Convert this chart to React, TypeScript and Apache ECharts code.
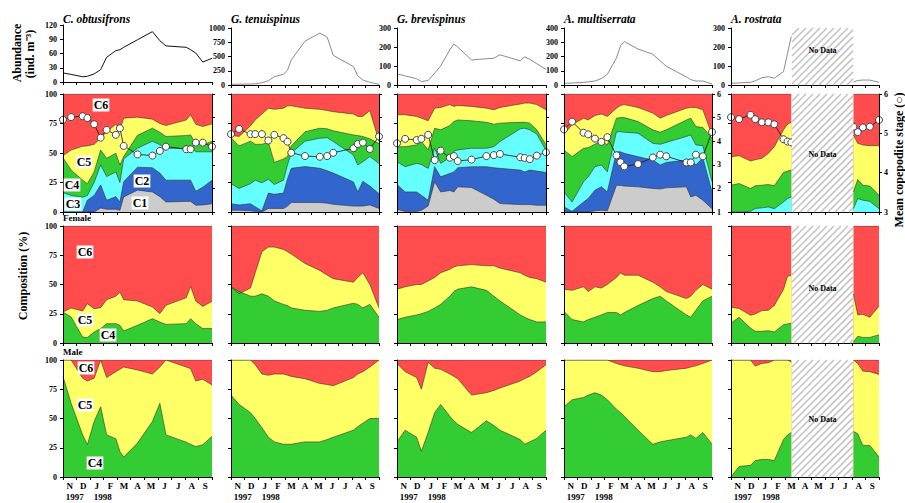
import React, { useEffect, useRef } from 'react';
import * as echarts from 'echarts';

const FONT = '"Liberation Serif", "Times New Roman", Times, serif';
const N = null;

// sampling dates, in months since 1 Nov 1997
const sampleMonth = [0, 0.6, 1.45, 1.8, 2.3, 2.78, 3.22, 3.9, 4.2, 4.48, 5.5, 6.6, 7.15, 7.6, 9.1, 9.42, 9.8, 10.32, 11];
const monthLabels = ['N', 'D', 'J', 'F', 'M', 'A', 'M', 'J', 'J', 'A', 'S'];
const speciesNames = ['C. obtusifrons', 'G. tenuispinus', 'G. brevispinus', 'A. multiserrata', 'A. rostrata'];
const abundanceMax = [120, 1000, 300, 400, 300];
const abundanceStep = [30, 250, 100, 100, 100];
const stageAxisMin = [1, 1, 1, 1, 3];
const noDataFrom = 4.53;
const noDataTo = 9.07;

// ---- C. obtusifrons ----
const cobAbundance = [19, 16, 11, 12, 17, 26, 52, 66, 68, 73, 89, 106, 87, 76, 73, 68, 61, 42, 50];
const cobC1 = [0, 0, 0, 0, 0, 3.4, 2.3, 2.3, 1.4, 12.8, 18.5, 17, 13, 8.5, 9, 9, 5.7, 6, 7];
const cobC2 = [0, 0, 0, 10, 14, 23, 10, 13, 8.5, 25.6, 38, 37.5, 33, 27, 27, 27, 17.6, 21, 27];
const cobC3 = [16.5, 14, 12.5, 14, 25, 40, 30, 34, 25, 45, 54, 60, 57, 54, 54, 55, 51, 51, 51];
const cobC4 = [46, 35.5, 27, 24, 34, 52.5, 45.5, 49.7, 39.8, 47, 65, 71, 67.6, 64, 64.8, 65.3, 58, 56.8, 60];
const cobC5 = [47.7, 52.5, 55.7, 56, 57.4, 62.5, 68, 74.4, 69.6, 79.5, 80.4, 78.7, 75, 73.3, 78, 82.4, 74.4, 72.4, 74.7];
const cobStage = [4.91, 5.02, 5.06, 4.98, 4.72, 4.15, 4.48, 4.27, 4.55, 3.8, 3.44, 3.39, 3.59, 3.77, 3.66, 3.66, 3.94, 3.94, 3.77];
const cobFemaleC4 = [26.5, 22.2, 5.1, 4.6, 9.4, 12.3, 16.5, 16.5, 15.1, 10.3, 15.1, 20.8, 17.9, 15.9, 16.5, 20.8, 16.5, 12.3, 12.3];
const cobFemaleC5 = [26.5, 29.9, 27.4, 33.6, 29.3, 30.2, 37, 39.9, 43.6, 37, 35.9, 30.8, 25.1, 32.2, 38.7, 48.4, 35.9, 31.3, 35.6];
const cobMaleC4 = [85.8, 63, 36, 27.6, 47.4, 60, 36, 32.7, 21.9, 17, 29, 47.4, 63, 36, 29.8, 28, 26, 27.6, 34.7];
const cobMaleC5 = [100, 100, 84.4, 82, 84.4, 100, 85, 90, 92, 94, 91.5, 88, 94, 100, 94, 92.6, 82, 83.5, 78.7];

// ---- G. tenuispinus ----
const gteAbundance = [12, 14, 18, 20, 40, 75, 145, 190, 260, 440, 770, 910, 840, 520, 324, 159, 88, 47, 12];
const gteC1 = [1.5, 1.5, 1, 0.5, 0, 3, 3, 3, 5, 8, 8, 8, 7.5, 6.5, 5, 5, 5, 6, 3];
const gteC2 = [7, 6, 7, 4.5, 1, 16, 15, 16, 28, 37, 38.5, 37, 35, 33, 25.5, 17, 26, 22, 15.5];
const gteC3 = [24, 20, 24, 27, 24.7, 27.8, 23.3, 27, 40, 50, 60, 62.5, 63, 59.7, 48.3, 39.8, 42.6, 47, 41];
const gteC4 = [63, 56, 60, 57.4, 57.4, 59, 42, 45, 47, 56, 68, 71, 70.5, 68.8, 65.3, 64.8, 64, 62, 58];
const gteC5 = [65, 64, 73, 78, 83, 88, 87, 88, 90, 90, 88, 87, 86, 85, 83, 81, 81, 86, 60];
const gteStage = [4.3, 4.52, 4.3, 4.3, 4.3, 4.03, 4.27, 4.13, 3.98, 3.51, 3.37, 3.34, 3.37, 3.51, 3.7, 3.88, 3.94, 3.67, 4.2];
const gteFemaleC4 = [48, 44, 40, 40, 42, 40, 36, 33, 32, 30, 28, 27, 28, 30, 34, 33, 30, 33, 22];
const gteFemaleC5 = [48, 42, 47, 60, 78, 82, 82, 80, 78, 76, 68, 62, 58, 55, 52, 56, 60, 50, 30];
const gteMaleC4 = [70, 62, 55, 50, 42, 34, 30, 28, 28, 28, 30, 30, 32, 34, 40, 43, 46, 50, 50];
const gteMaleC5 = [100, 100, 100, 96, 88, 87, 88, 88, 87, 86, 84, 80, 79, 78, 85, 88, 90, 94, 100];

// ---- G. brevispinus ----
const gbrAbundance = [58, 48, 33, 18, 24, 62, 100, 185, 215, 200, 132, 138, 141, 159, 127, 148, 135, 112, 82];
const gbrC1 = [2.3, 0.5, 0.5, 1.4, 5.1, 25.6, 17, 18.2, 17, 21.3, 20.7, 14.2, 10.8, 7.1, 6.3, 6.3, 6.3, 5.7, 5.7];
const gbrC2 = [23.3, 17, 17, 14.2, 10, 38.4, 29.8, 32.7, 34, 37.5, 38.4, 38.4, 37.5, 37, 35.5, 34, 35.5, 34.7, 33.5];
const gbrC3 = [42.6, 38.4, 41.2, 40.3, 36.9, 54, 41.2, 46, 51.7, 52.6, 54, 54, 55.4, 59.7, 70.5, 71, 69.6, 66, 52];
const gbrC4 = [55.4, 55.4, 56.8, 59.7, 52.6, 71, 69.6, 73.3, 76.7, 78, 77.3, 76, 74.4, 75.3, 76, 76, 75.3, 69.6, 57];
const gbrC5 = [82.4, 82.4, 81, 79.5, 77.3, 88, 88.6, 91, 89.5, 90.3, 89.5, 88, 86.6, 88.6, 91.5, 92.3, 92.3, 91, 86.6];
const gbrStage = [3.91, 4.1, 4.05, 4.1, 4.27, 3.2, 3.6, 3.3, 3.37, 3.16, 3.22, 3.37, 3.41, 3.46, 3.32, 3.29, 3.24, 3.39, 3.53];
const gbrFemaleC4 = [20, 22, 24, 25, 27, 30, 33, 40, 44, 46, 48, 45, 40, 36, 24, 22, 20, 18, 18];
const gbrFemaleC5 = [46, 48, 50, 50, 53, 56, 60, 63, 65, 66, 67, 66, 66, 64, 60, 58, 56, 55, 52];
const gbrMaleC4 = [30, 40, 34, 22, 38, 55, 62, 52, 48, 45, 38, 48, 44, 40, 32, 28, 30, 33, 40];
const gbrMaleC5 = [97, 90, 85, 75, 98, 93, 92, 88, 86, 84, 70, 72, 74, 76, 82, 84, 86, 90, 96];

// ---- A. multiserrata ----
const amuAbundance = [12, 14, 18, 22, 28, 45, 75, 190, 275, 305, 252, 216, 169, 132, 56, 38, 28, 28, 7];
const amuC1 = [0.5, 0, 0, 0, 1, 1.5, 1, 22.7, 22.5, 22, 21.3, 20, 19.5, 20.5, 21.3, 12.8, 14.2, 10, 2.8];
const amuC2 = [4.3, 0.6, 8.5, 11.4, 18.5, 21.3, 17, 51, 51, 49.7, 46.9, 44, 39.8, 42, 44, 44.9, 39.8, 46, 17];
const amuC3 = [17, 8.5, 25.6, 29.8, 38.4, 39.8, 34, 68, 68, 67.6, 66.8, 58.2, 57.4, 59, 64, 65.3, 56.8, 56.2, 25.6];
const amuC4 = [52.6, 46.9, 54, 54.5, 57.4, 60.2, 56.8, 79.5, 80, 80, 76.7, 69.6, 67.6, 69.6, 78, 79.5, 72.4, 71.6, 62.5];
const amuC5 = [65.9, 73.9, 79.5, 78, 81.8, 83, 81, 88, 90.3, 91, 88.6, 83.8, 79.5, 81.8, 88, 88.6, 88.6, 86.6, 65.3];
const amuStage = [4.5, 4.83, 4.36, 4.29, 4.11, 3.97, 4.17, 3.4, 3.11, 2.93, 3.03, 3.31, 3.43, 3.36, 3.1, 3.1, 3.43, 3.36, 4.39];
const amuFemaleC4 = [27, 20, 18, 20, 22, 24, 26, 26, 24, 26, 32, 38, 40, 36, 24, 22, 28, 36, 40];
const amuFemaleC5 = [46, 45, 48, 44, 48, 47, 50, 56, 60, 58, 58, 52, 48, 44, 38, 40, 45, 50, 46];
const amuMaleC4 = [60, 66, 68, 70, 72, 70, 66, 58, 55, 52, 40, 28, 30, 31, 34, 36, 33, 38, 28];
const amuMaleC5 = [100, 100, 100, 100, 100, 100, 100, 97, 96, 95, 93, 90, 90, 91, 93, 94, 95, 97, 100];

// ---- A. rostrata (no data Mar–Jul) ----
const aroAbundance = [9, 11, 14, 22, 38, 44, 36, 70, 165, 255, N, N, N, N, 15, 24, 26, 26, 14];
const aroC3 = [0, 0, 0.5, 3, 3.5, 4.3, 2.8, 8.5, 11.4, 12.8, N, N, N, N, 2.8, 11.4, 10, 9, 2.8];
const aroC4 = [22.7, 24.1, 19.9, 22.2, 22.7, 23.3, 22.2, 33.5, 34.7, 35.5, N, N, N, N, 17, 27.6, 22.7, 22, 14.2];
const aroC5 = [46.9, 47.7, 43.2, 44.3, 45.5, 49.7, 55.4, 69.6, 74.4, 76.1, N, N, N, N, 65.3, 58.2, 56.8, 56.2, 56.2];
const aroStage = [5.41, 5.36, 5.47, 5.36, 5.28, 5.28, 5.23, 4.85, 4.79, 4.77, N, N, N, N, 5.17, 5.03, 5.15, 5.17, 5.34];
const aroFemaleC4 = [17, 22, 12.8, 10, 10, 10.5, 9.4, 15.7, 16.3, 17, N, N, N, N, 1, 5.7, 4.8, 4.8, 7];
const aroFemaleC5 = [30.6, 29.5, 23.7, 24.8, 27.7, 28, 32, 45.7, 57, 58, N, N, N, N, 42, 24, 24.5, 22, 31.4];
const aroMaleC4 = [0, 9, 10, 14, 15, 15, 14, 32, 36, 38, N, N, N, N, 39, 37, 27, 27, 17];
const aroMaleC5 = [100, 100, 100, 94.8, 97.1, 97.7, 100, 100, 100, 98.3, N, N, N, N, 100, 97, 90.5, 90, 87.7];

const STAGE_COLORS = ['#cccccc', '#3366cc', '#66ffff', '#33cc33', '#ffff66', '#ff4d4d'];

type Sp = {
  abundance: (number | null)[];
  cum: ((number | null)[] | null)[];
  stage: (number | null)[];
  female: (number | null)[][];
  male: (number | null)[][];
};

const species: Sp[] = [
  { abundance: cobAbundance, cum: [cobC1, cobC2, cobC3, cobC4, cobC5], stage: cobStage, female: [cobFemaleC4, cobFemaleC5], male: [cobMaleC4, cobMaleC5] },
  { abundance: gteAbundance, cum: [gteC1, gteC2, gteC3, gteC4, gteC5], stage: gteStage, female: [gteFemaleC4, gteFemaleC5], male: [gteMaleC4, gteMaleC5] },
  { abundance: gbrAbundance, cum: [gbrC1, gbrC2, gbrC3, gbrC4, gbrC5], stage: gbrStage, female: [gbrFemaleC4, gbrFemaleC5], male: [gbrMaleC4, gbrMaleC5] },
  { abundance: amuAbundance, cum: [amuC1, amuC2, amuC3, amuC4, amuC5], stage: amuStage, female: [amuFemaleC4, amuFemaleC5], male: [amuMaleC4, amuMaleC5] },
  { abundance: aroAbundance, cum: [null, null, aroC3, aroC4, aroC5], stage: aroStage, female: [aroFemaleC4, aroFemaleC5], male: [aroMaleC4, aroMaleC5] },
];

// layout
const colLeft = [63, 231, 397, 564, 731];
const colWidth = [149, 148, 149, 148, 148];
const rowTop = [28, 94, 226, 360];
const rowHeight = [57, 118, 117, 117];
const gridTop = (r: number, c: number) => (r === 0 && c === 0 ? 25 : rowTop[r]);

const pts = (arr: (number | null)[]) => sampleMonth.map((m, i) => [m, arr[i] == null ? '-' : arr[i]]);
const topPts = (ref: (number | null)[]) => sampleMonth.map((m, i) => [m, ref[i] == null ? '-' : 100]);

function buildOption() {
  const grid: any[] = [];
  const xAxis: any[] = [];
  const yAxis: any[] = [];
  const series: any[] = [];
  const graphic: any[] = [];

  const axisLabelBase = { fontFamily: FONT, fontWeight: 'bold', fontSize: 8, color: '#000', formatter: (v: number) => String(v) };

  for (let r = 0; r < 4; r++) {
    for (let c = 0; c < 5; c++) {
      const g = r * 5 + c;
      grid.push({ left: colLeft[c], top: gridTop(r, c), width: colWidth[c], height: rowHeight[r] });
      xAxis.push({
        type: 'value', gridIndex: g, min: 0, max: 11, interval: 1, z: 10,
        axisLine: { show: true, onZero: false, lineStyle: { color: '#000', width: 1 } },
        axisTick: { show: true, length: 3, lineStyle: { color: '#000' } },
        axisLabel: { show: false }, splitLine: { show: false },
      });
      yAxis.push({
        type: 'value', gridIndex: g, position: 'left', z: 10,
        min: 0, max: r === 0 ? abundanceMax[c] : 100, interval: r === 0 ? abundanceStep[c] : 25,
        axisLine: { show: true, lineStyle: { color: '#000', width: 1 } },
        axisTick: { show: true, length: 3, lineStyle: { color: '#000' } },
        axisLabel: { ...axisLabelBase, show: r === 0 || c === 0, margin: 6 },
        splitLine: { show: false },
      });
    }
  }
  // right axes: mean copepodite stage (row 2)
  for (let c = 0; c < 5; c++) {
    yAxis.push({
      type: 'value', gridIndex: 5 + c, position: 'right', z: 10,
      min: stageAxisMin[c], max: 6, interval: 1,
      axisLine: { show: true, lineStyle: { color: '#000', width: 1 } },
      axisTick: { show: true, length: 3, lineStyle: { color: '#000' } },
      axisLabel: { ...axisLabelBase, show: c >= 3, margin: 5 },
      splitLine: { show: false },
    });
  }
  // month labels (row 4)
  for (let c = 0; c < 5; c++) {
    xAxis.push({
      type: 'category', gridIndex: 15 + c, position: 'bottom', data: monthLabels, boundaryGap: true,
      axisLine: { show: false }, axisTick: { show: false },
      axisLabel: { fontFamily: FONT, fontWeight: 'bold', fontSize: 9, color: '#000', margin: 4, interval: 0 },
      splitLine: { show: false },
    });
  }

  const areaSeries = (g: number, yIdx: number, data: any[], color: string) => ({
    type: 'line', xAxisIndex: g, yAxisIndex: yIdx, data, symbol: 'none', showSymbol: false,
    silent: true, animation: false, z: 2,
    lineStyle: { color: '#333', width: 0.6 },
    areaStyle: { color, opacity: 1 },
  });

  species.forEach((sp, c) => {
    // row 1: abundance
    series.push({
      type: 'line', xAxisIndex: c, yAxisIndex: c, data: pts(sp.abundance), symbol: 'none', showSymbol: false,
      silent: true, z: 3,
      lineStyle: { color: c === 0 ? '#111' : '#8a8a8a', width: 1 },
    });
    // row 2: C1..C6 composition
    const g2 = 5 + c;
    series.push(areaSeries(g2, g2, topPts(sp.cum[4] as any), STAGE_COLORS[5]));
    for (let k = 4; k >= 0; k--) {
      const arr = sp.cum[k];
      if (!arr) continue;
      series.push(areaSeries(g2, g2, pts(arr), STAGE_COLORS[k]));
    }
    series.push({
      type: 'line', xAxisIndex: g2, yAxisIndex: 20 + c, data: pts(sp.stage),
      symbol: 'circle', symbolSize: 7, showSymbol: true, silent: true, z: 5,
      lineStyle: { color: '#111', width: 0.8 },
      itemStyle: { color: '#ffffff', borderColor: '#444', borderWidth: 1 },
    });
    // row 3: female, row 4: male
    [sp.female, sp.male].forEach((sex, si) => {
      const g = (2 + si) * 5 + c;
      series.push(areaSeries(g, g, topPts(sex[1]), STAGE_COLORS[5]));
      series.push(areaSeries(g, g, pts(sex[1]), STAGE_COLORS[4]));
      series.push(areaSeries(g, g, pts(sex[0]), STAGE_COLORS[3]));
    });
  });

  // titles
  speciesNames.forEach((name, c) => {
    graphic.push({
      type: 'text', x: colLeft[c], y: 19, z: 50,
      style: { text: name, fill: '#000', font: `italic bold 11.5px ${FONT}`, align: 'left', verticalAlign: 'middle' },
    });
  });

  const txt = (text: string, x: number, y: number, size: number, extra: any = {}) => ({
    type: 'text', x, y, z: 60, ...extra,
    style: { text, fill: '#000', font: `bold ${size}px ${FONT}`, align: 'center', verticalAlign: 'middle', ...(extra.style || {}) },
  });

  graphic.push({ ...txt('Abundance', 17, 53, 12), rotation: Math.PI / 2 });
  graphic.push({ ...txt('(ind. m\u207B\u00B3)', 30, 54, 12), rotation: Math.PI / 2 });
  graphic.push({ ...txt('Composition (%)', 23, 276, 12), rotation: Math.PI / 2 });
  graphic.push({ ...txt('Mean copepodite stage (\u25CB)', 899, 160, 12), rotation: Math.PI / 2 });
  graphic.push({ type: 'text', x: 63, y: 218, z: 60, style: { text: 'Female', fill: '#000', font: `bold 9px ${FONT}`, align: 'left', verticalAlign: 'middle' } });
  graphic.push({ type: 'text', x: 63, y: 352, z: 60, style: { text: 'Male', fill: '#000', font: `bold 9px ${FONT}`, align: 'left', verticalAlign: 'middle' } });

  // stage labels in first column
  const stageLabels: [string, number, number][] = [
    ['C6', 101, 105], ['C5', 84, 162], ['C4', 72, 185], ['C3', 73, 204], ['C2', 142, 181], ['C1', 140, 203],
    ['C6', 85, 252], ['C5', 85, 320], ['C4', 108, 335],
    ['C6', 86, 368], ['C5', 85, 405], ['C4', 95, 463],
  ];
  stageLabels.forEach(([t, x, y]) => {
    graphic.push({
      type: 'text', x, y, z: 80,
      style: { text: t, fill: '#000', font: `bold 12px ${FONT}`, align: 'center', verticalAlign: 'middle', backgroundColor: '#ffffff', padding: [1, 1, 0, 1] },
    });
  });

  // year labels
  for (let c = 0; c < 5; c++) {
    const w = colWidth[c] / 11;
    graphic.push({ type: 'text', x: colLeft[c] + 0.5 * w - 4, y: 497, z: 60, style: { text: '1997', fill: '#000', font: `bold 9px ${FONT}`, align: 'left', verticalAlign: 'middle' } });
    graphic.push({ type: 'text', x: colLeft[c] + 2.5 * w - 3, y: 497, z: 60, style: { text: '1998', fill: '#000', font: `bold 9px ${FONT}`, align: 'left', verticalAlign: 'middle' } });
  }

  // No Data hatches (A. rostrata)
  const c5 = 4;
  const hx0 = colLeft[c5] + (noDataFrom / 11) * colWidth[c5];
  const hx1 = colLeft[c5] + (noDataTo / 11) * colWidth[c5];
  const noDataY = [50, 154, 288, 419];
  for (let r = 0; r < 4; r++) {
    const y0 = gridTop(r, c5);
    const y1 = y0 + rowHeight[r];
    graphic.push({ type: 'rect', z: 40, shape: { x: hx0, y: y0, width: hx1 - hx0, height: y1 - y0 }, style: { fill: '#ffffff' } });
    const step = 7;
    for (let s = hx0 + y0; s <= hx1 + y1; s += step) {
      const lo = Math.max(hx0, s - y1);
      const hi = Math.min(hx1, s - y0);
      if (hi - lo < 0.5) continue;
      graphic.push({
        type: 'line', z: 41, shape: { x1: lo, y1: s - lo, x2: hi, y2: s - hi },
        style: { stroke: '#c4c4c4', lineWidth: 1.6 },
      });
    }
    graphic.push({
      type: 'text', x: (hx0 + hx1) / 2, y: noDataY[r], z: 45,
      style: { text: 'No Data', fill: '#000', font: `bold 8px ${FONT}`, align: 'center', verticalAlign: 'middle' },
    });
  }

  return { animation: false, backgroundColor: '#ffffff', grid, xAxis, yAxis, series, graphic };
}

export default function App() {
  const ref = useRef<HTMLDivElement>(null);
  useEffect(() => {
    if (!ref.current) return;
    const chart = echarts.init(ref.current, undefined, { renderer: 'svg' });
    chart.setOption(buildOption() as any);
    return () => chart.dispose();
  }, []);
  return <div ref={ref} style={{ position: 'absolute', left: 0, top: 0, width: 905, height: 503 }} />;
}
